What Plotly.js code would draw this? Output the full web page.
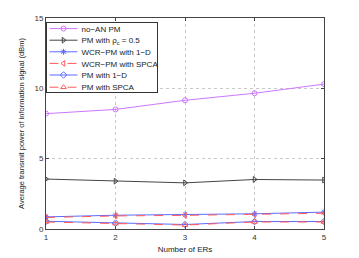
<!DOCTYPE html>
<html><head><meta charset="utf-8">
<script src="https://cdn.plot.ly/plotly-3.0.1.min.js"></script>
<style>html,body{margin:0;padding:0;background:#fff}</style>
</head><body>
<div id="chart" style="width:359px;height:258px"></div>
<script>
const ers = [1, 2, 3, 4, 5];
const noAnPM = [8.2, 8.5, 9.15, 9.65, 10.3];
const pmRho = [3.55, 3.4, 3.28, 3.52, 3.48];
const wcr1D = [0.86, 0.98, 1.03, 1.08, 1.2];
const wcrSPCA = [0.82, 0.93, 0.97, 1.02, 1.12];
const pm1D = [0.55, 0.42, 0.32, 0.53, 0.53];
const pmSPCA = [0.5, 0.38, 0.28, 0.5, 0.5];
const names = ["no\u2212AN PM", "PM with \u03C1<sub>c</sub> = 0.5", "WCR\u2212PM with 1\u2212D", "WCR\u2212PM with SPCA", "PM with 1\u2212D", "PM with SPCA"];

function tr(y, name, color, symbol, dash) {
  return {x: ers, y: y, name: name, mode: 'lines+markers', type: 'scatter',
    line: {color: color, width: 1, dash: dash},
    marker: {symbol: symbol, size: 5, color: color, line: {color: color, width: 1}}};
}
const data = [
  tr(noAnPM, names[0], '#cc77ff', 'circle-open', 'solid'),
  tr(pmRho, names[1], '#444444', 'triangle-right-open', 'solid'),
  tr(wcr1D, names[2], '#5a6cff', 'asterisk-open', 'solid'),
  tr(wcrSPCA, names[3], '#ff5a5a', 'triangle-left-open', 'dash'),
  tr(pm1D, names[4], '#5a6cff', 'diamond-open', 'solid'),
  tr(pmSPCA, names[5], '#ff5a5a', 'triangle-up-open', 'dash')
];
const fam = 'Liberation Sans, Arial, sans-serif';
const axisCommon = {showline: true, mirror: 'ticks', linecolor: '#444', linewidth: 1,
  ticks: 'inside', ticklen: 3, tickcolor: '#444', showgrid: true, gridcolor: '#c8c8c8',
  griddash: 'dot', gridwidth: 1, zeroline: false,
  tickfont: {family: fam, size: 8, color: '#333'}};
const layout = {
  width: 359, height: 258,
  margin: {l: 46, r: 35, t: 18, b: 29},
  paper_bgcolor: '#fff', plot_bgcolor: '#fff',
  showlegend: true,
  legend: {x: 0.004, y: 0.983, xanchor: 'left', yanchor: 'top', bgcolor: '#fff',
    bordercolor: '#333', borderwidth: 1, font: {family: fam, size: 8, color: '#222'},
    tracegroupgap: 0, itemwidth: 30},
  xaxis: Object.assign({}, axisCommon, {range: [1, 5], tickvals: [1, 2, 3, 4, 5],
    title: {text: 'Number of ERs', font: {family: fam, size: 8, color: '#222'}, standoff: 5}}),
  yaxis: Object.assign({}, axisCommon, {range: [0, 15], tickvals: [0, 5, 10, 15],
    title: {text: 'Average transmit power of information signal (dBm)', font: {family: fam, size: 7.5, color: '#222'}, standoff: 8}})
};
Plotly.newPlot('chart', data, layout, {displayModeBar: false, staticPlot: true}).then(function (gd) {
  // compact legend to match the reference box and row spacing
  const leg = gd.querySelector('g.legend');
  if (!leg) return;
  const lt = (leg.getAttribute('transform') || '').match(/translate\(([-\d.]+),\s*([-\d.]+)\)/);
  if (lt) leg.setAttribute('transform', 'translate(45.5,' + lt[2] + ')');
  const host = gd.getBoundingClientRect();
  const bg = leg.querySelector('rect.bg');
  const boxTop = 22.3, boxH = 70;
  if (bg) {
    const r0 = bg.getBoundingClientRect();
    const curTop = r0.top - host.top;
    const by = parseFloat(bg.getAttribute('y') || 0);
    bg.setAttribute('y', by + (boxTop - curTop));
    bg.setAttribute('height', boxH);
    bg.setAttribute('width', 111);
  }
  const items = leg.querySelectorAll('g.traces');
  const step = 11.6, firstCenter = 28.6;
  items.forEach(function (g, i) {
    const t = g.getAttribute('transform') || '';
    const m = t.match(/translate\(([-\d.]+),\s*([-\d.]+)\)/);
    if (!m) return;
    const x = parseFloat(m[1]), y = parseFloat(m[2]);
    const layer = g.querySelector('g.layers') || g;
    const rr = layer.getBoundingClientRect();
    const c = (rr.top + rr.bottom) / 2 - host.top;
    const target = firstCenter + i * step;
    g.setAttribute('transform', 'translate(' + x + ',' + (y + target - c) + ')');
    const txt = g.querySelector('text.legendtext');
    if (txt) txt.setAttribute('x', 35);
    g.querySelectorAll('path.js-line').forEach(function (p) { p.setAttribute('d', 'M3,0h28'); });
    g.querySelectorAll('g.legendpoints path.scatterpts').forEach(function (p) {
      const tt = p.getAttribute('transform') || '';
      p.setAttribute('transform', tt.replace(/translate\(\s*20\s*,/, 'translate(17,'));
    });
  });
});
</script>
</body></html>
